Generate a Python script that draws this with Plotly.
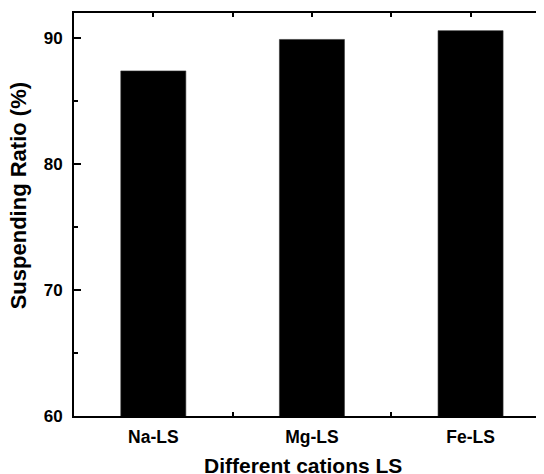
import plotly.graph_objects as go

categories = ["Na-LS", "Mg-LS", "Fe-LS"]
suspending_ratio = [87.4, 89.9, 90.6]
y_tick_values = [60, 70, 80, 90]
x_title = "Different cations LS"
y_title = "Suspending Ratio (%)"

positions = list(range(1, len(categories) + 1))
FONT = "Liberation Sans, Arial, sans-serif"

fig = go.Figure(
    go.Bar(
        x=positions,
        y=suspending_ratio,
        width=0.41,
        marker=dict(color="black", line=dict(color="#333333", width=0.6)),
        showlegend=False,
    )
)

fig.update_layout(
    width=536,
    height=466,
    margin=dict(l=66, r=0, t=5, b=58),
    plot_bgcolor="white",
    paper_bgcolor="white",
    font=dict(family=FONT, color="black"),
    xaxis=dict(
        range=[0.5, 3.463],
        tickmode="array",
        tickvals=positions,
        ticktext=categories,
        ticks="inside",
        ticklen=4,
        tickwidth=1.5,
        tickcolor="black",
        showline=True,
        linewidth=2,
        linecolor="black",
        mirror="allticks",
        showgrid=False,
        zeroline=False,
        tickfont=dict(family=FONT, size=17.5, weight="bold"),
        ticklabelstandoff=4,
        minor=dict(tickmode="linear", tick0=0.5, dtick=0.5, ticks="inside",
                   ticklen=4, tickwidth=1.5, tickcolor="black", showgrid=False),
    ),
    yaxis=dict(
        range=[60, 92],
        tickmode="array",
        tickvals=y_tick_values,
        ticks="inside",
        ticklen=7,
        tickwidth=2,
        tickcolor="black",
        showline=True,
        linewidth=2,
        linecolor="black",
        mirror=False,
        showgrid=False,
        zeroline=False,
        tickfont=dict(family=FONT, size=17, weight="bold"),
        ticklabelstandoff=6,
        minor=dict(dtick=5, tick0=60, ticks="inside", ticklen=4, tickwidth=2,
                   tickcolor="black", showgrid=False),
    ),
    annotations=[
        dict(text=x_title, xref="paper", yref="paper", x=0.487, y=-0.122,
             xanchor="center", yanchor="middle", showarrow=False,
             font=dict(family=FONT, size=21, weight="bold", color="black")),
        dict(text=y_title, xref="paper", yref="paper", x=-0.118, y=0.5465,
             xanchor="center", yanchor="middle", textangle=-90, showarrow=False,
             font=dict(family=FONT, size=22, weight="bold", color="black")),
    ],
)

fig.write_html("out.html")
